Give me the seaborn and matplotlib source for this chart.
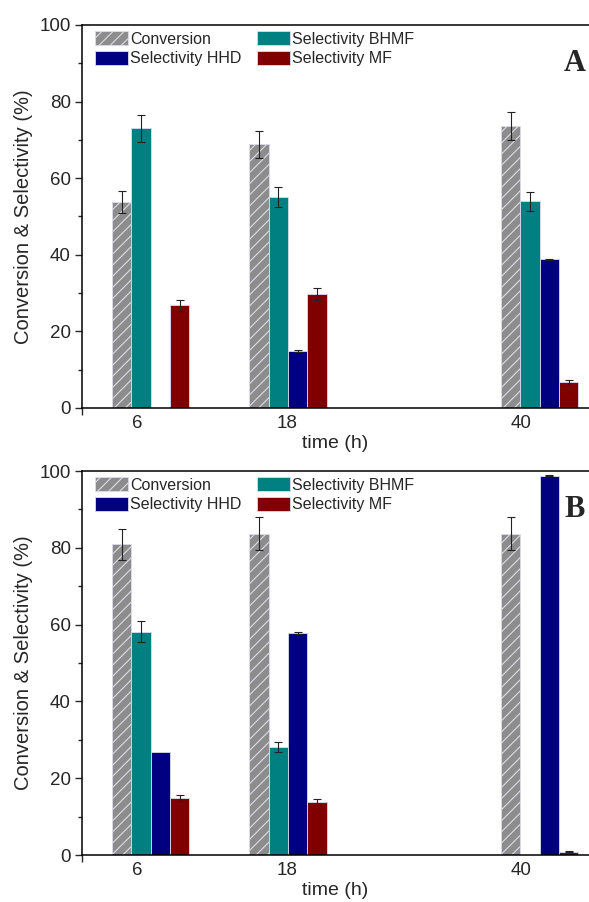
import numpy as np
import pandas as pd
import matplotlib
matplotlib.use("Agg")
import matplotlib.pyplot as plt
from matplotlib.patches import Patch
from matplotlib.ticker import MultipleLocator
import seaborn as sns

# ---------------- data ----------------
times = [6, 18, 40]
series = ["Conversion", "Selectivity BHMF", "Selectivity HHD", "Selectivity MF"]
tick_labels = ["6", "18", "40"]

# Panel A
a_conv = [53.8, 68.8, 73.7]
a_bhmf = [73.0, 55.1, 54.0]
a_hhd = [0.0, 14.9, 38.8]
a_mf = [26.8, 29.8, 6.7]
a_conv_err = [2.8, 3.5, 3.7]
a_bhmf_err = [3.6, 2.6, 2.5]
a_hhd_err = [0.0, 0.2, 0.2]
a_mf_err = [1.5, 1.5, 0.6]

# Panel B
b_conv = [80.9, 83.7, 83.7]
b_bhmf = [58.2, 28.1, 0.0]
b_hhd = [26.9, 57.8, 98.8]
b_mf = [14.9, 13.9, 0.9]
b_conv_err = [4.1, 4.3, 4.3]
b_bhmf_err = [2.7, 1.3, 0.0]
b_hhd_err = [0.0, 0.2, 0.2]
b_mf_err = [0.8, 0.8, 0.2]

colors = ["#8c8c8c", "#008080", "#000080", "#800000"]
edge = "#dcdcec"

# ---------------- style ----------------
sns.set_theme(style="ticks")
plt.rcParams["font.family"] = ["Liberation Sans", "DejaVu Sans"]
plt.rcParams["hatch.linewidth"] = 0.8
plt.rcParams["hatch.color"] = "#f4f4f4"

fig = plt.figure(figsize=(5.89, 9.02), dpi=100)
W, H = 589, 902
axA = fig.add_axes([82 / W, (H - 408) / H, 507 / W, 383 / H])
axB = fig.add_axes([82 / W, (H - 855) / H, 507 / W, 384 / H])

tick_pos = [4.8, 17.95, 38.4]


def build(vals):
    rows = []
    for s, v in zip(series, vals):
        for t, y in zip(times, v):
            rows.append({"time": t, "series": s, "value": y})
    return pd.DataFrame(rows)


def panel(ax, vals, errs, letter):
    df = build(vals)
    sns.barplot(data=df, x="time", y="value", hue="series", hue_order=series,
                palette=colors, native_scale=True, width=0.5633, errorbar=None,
                saturation=1, edgecolor=edge, linewidth=0.6, legend=False, ax=ax)
    for i, cont in enumerate(ax.containers[:4]):
        for bar, e in zip(cont, errs[i]):
            if i == 0:
                bar.set_hatch("///")
            if e > 0:
                ax.errorbar(bar.get_x() + bar.get_width() / 2, bar.get_height(),
                            yerr=e, fmt="none", ecolor="#222222", elinewidth=0.8,
                            capsize=3, capthick=0.8, zorder=5)
    ax.set_xlim(0, 44.3)
    ax.set_ylim(0, 100)
    ax.yaxis.set_major_locator(MultipleLocator(20))
    ax.yaxis.set_minor_locator(MultipleLocator(10))
    ax.set_xticks(tick_pos)
    ax.set_xticklabels(tick_labels)
    ax.set_xticks([0], minor=True)
    ax.tick_params(axis="x", which="major", length=0, pad=5, labelsize=13.5)
    ax.tick_params(axis="x", which="minor", length=5, width=1.0, direction="out")
    ax.tick_params(axis="y", which="major", length=5, width=1.0, direction="out",
                   pad=3, labelsize=13.5)
    ax.tick_params(axis="y", which="minor", length=3, width=1.0, direction="out")
    for side in ["left", "bottom", "top"]:
        ax.spines[side].set_visible(True)
        ax.spines[side].set_linewidth(1.1)
        ax.spines[side].set_color("black")
    ax.spines["right"].set_visible(False)
    ax.set_xlabel("time (h)", fontsize=14, labelpad=2)
    ax.set_ylabel("Conversion & Selectivity (%)", fontsize=14.5, labelpad=5)
    ax.grid(False)

    handles = []
    for s, c in zip(series, colors):
        handles.append(Patch(facecolor=c, edgecolor=edge, linewidth=0.6,
                             hatch="///" if s == "Conversion" else None, label=s))
    order = [0, 2, 1, 3]
    ax.legend([handles[k] for k in order], [series[k] for k in order], ncol=2,
              loc="upper left", bbox_to_anchor=(0.025, 0.984), frameon=False,
              fontsize=11.5, handlelength=2.06, handleheight=1.0, handletextpad=0.15,
              columnspacing=0.98, labelspacing=0.25, borderpad=0, borderaxespad=0)
    ax.text(0.972, 0.90, letter, transform=ax.transAxes, ha="center", va="center",
            fontsize=22, fontweight="bold", family="Liberation Serif")


panel(axA, [a_conv, a_bhmf, a_hhd, a_mf],
      [a_conv_err, a_bhmf_err, a_hhd_err, a_mf_err], "A")
panel(axB, [b_conv, b_bhmf, b_hhd, b_mf],
      [b_conv_err, b_bhmf_err, b_hhd_err, b_mf_err], "B")

fig.savefig("out.png", dpi=100)
